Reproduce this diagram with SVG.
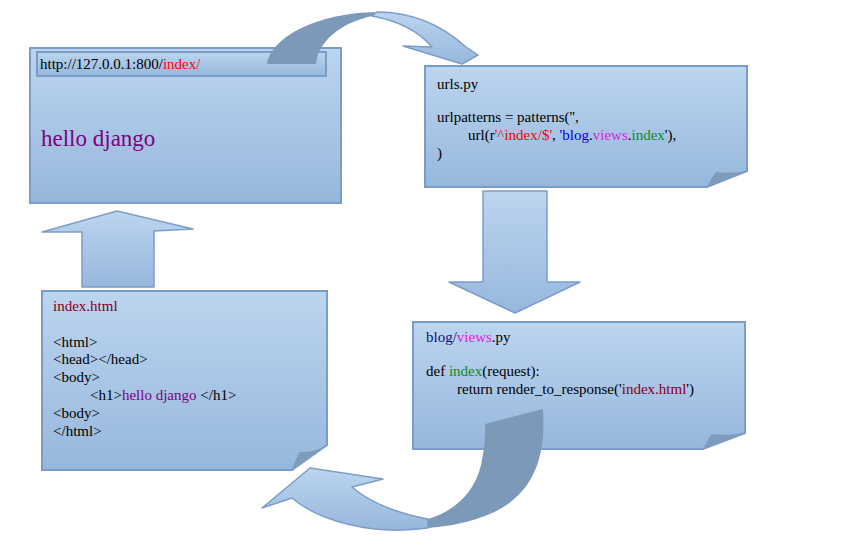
<svg xmlns="http://www.w3.org/2000/svg" width="866" height="549" viewBox="0 0 866 549">
<defs>
<linearGradient id="g" x1="0" y1="0" x2="0" y2="1">
<stop offset="0" stop-color="#bcd5ef"/>
<stop offset="1" stop-color="#96b7dd"/>
</linearGradient>
<style>
.box{fill:url(#g);stroke:#7b9cc6;stroke-width:2}
.fold{fill:#7f9bbb}
.arr{fill:url(#g);stroke:#7d9dc6;stroke-width:1.5;stroke-linejoin:round}
.dark{fill:#7c99b9}
text{font-family:'Liberation Serif','DejaVu Serif',serif;font-size:15px;fill:#000}
.red{fill:#ff0000}
.pur{fill:#800080}
.blu{fill:#0000e0}
.mag{fill:#e020e0}
.grn{fill:#108a20}
.nav{fill:#10107a}
.dred{fill:#80001a}
</style>
</defs>
<rect width="866" height="549" fill="#fff"/>

<g id="browser">
<rect class="box" x="30" y="48" width="311" height="155"/>
<rect class="box" x="37" y="52" width="289" height="24"/>
<text x="40" y="69" font-family="Liberation Serif, serif">http://127.0.0.1:800/<tspan class="red">index/</tspan></text>
<text x="41" y="146" class="pur" style="font-size:23px">hello django</text>
</g>

<g id="urls">
<path class="box" d="M425,66 H747 V171 L707,187 H425 Z"/>
<path class="fold" d="M707,187 C711,180 713,175 716,172 Q731,174 747,171 Z"/>
<text x="437" y="89">urls.py</text>
<text x="437" y="122">urlpatterns = patterns('',</text>
<text x="468" y="140">url(r<tspan class="red">'^index/$'</tspan>, <tspan class="blu">'blog</tspan>.<tspan class="mag">views</tspan>.<tspan class="grn">index</tspan>'),</text>
<text x="437" y="158">)</text>
</g>

<g id="views">
<path class="box" d="M413,322 H745 V433 L703,449 H413 Z"/>
<path class="fold" d="M703,449 C707,442 709,437 712,434 Q728,436 745,433 Z"/>
<text x="426" y="342"><tspan class="nav">blog/</tspan><tspan class="mag">views</tspan>.py</text>
<text x="426" y="376">def <tspan class="grn">index</tspan>(request):</text>
<text x="457" y="394">return render_to_response('<tspan class="dred">index.html</tspan>')</text>
</g>

<g id="template">
<path class="box" d="M42,291 H327 V445 L292,470 H42 Z"/>
<path class="fold" d="M292,470 C295,462 297,456 300,452 Q313,453 327,445 Z"/>
<text x="53" y="311" class="dred">index.html</text>
<text x="53" y="347">&lt;html&gt;</text>
<text x="53" y="364">&lt;head&gt;&lt;/head&gt;</text>
<text x="53" y="382">&lt;body&gt;</text>
<text x="90" y="400">&lt;h1&gt;<tspan class="pur">hello django </tspan>&lt;/h1&gt;</text>
<text x="53" y="418">&lt;body&gt;</text>
<text x="53" y="436">&lt;/html&gt;</text>
</g>

<g id="connectors">
<path class="dark" d="M267,64 C272,36 318,13 377,12 L372,16 C340,23 318,42 316,64 Z"/>
<path class="arr" d="M377,12 C415,12 445,28 466,47 L478,55 L462,64 L403,46 L432,47 C420,33 400,21 372,16 Z"/>
<path class="arr" d="M483,191 H547 V282 H580 L515,313 L449,282 H483 Z"/>
<path class="arr" d="M117,211 L193,229 L154,231 V287 H82 V232 L42,232 Z"/>
<path class="dark" d="M485,424 L543,409 C546,455 535,486 505,506 C485,519 455,526 428,528 L428,519 C458,510 475,490 481,465 C484,450 486,437 485,424 Z"/>
<path class="arr" d="M428,519 C400,514 370,503 352,487 L383,479 L310,468 L262,508 L292,498 C318,520 370,536 428,528 Z"/>
</g>
</svg>
